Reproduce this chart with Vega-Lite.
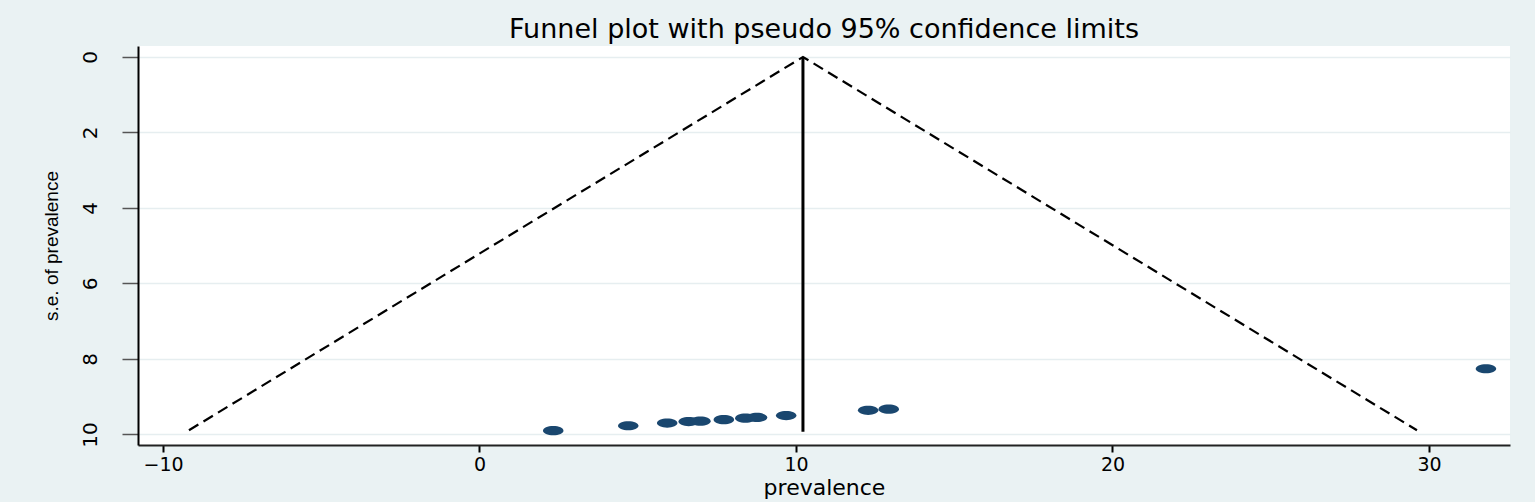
{
  "$schema": "https://vega.github.io/schema/vega-lite/v6.json",
  "width": 1372,
  "height": 399,
  "autosize": {"type": "none"},
  "padding": {"left": 138, "top": 46, "right": 25, "bottom": 57},
  "background": "#eaf2f3",
  "title": {
    "text": "Funnel plot with pseudo 95% confidence limits",
    "font": "DejaVu Sans",
    "fontSize": 27,
    "fontWeight": "normal",
    "color": "#000000",
    "baseline": "alphabetic",
    "offset": 7,
    "dy": 26,
    "anchor": "middle"
  },
  "config": {
    "view": {"stroke": null, "fill": "#ffffff"}
  },
  "datasets": {
    "studies": [
      {"prevalence": 2.33, "se": 9.90},
      {"prevalence": 4.70, "se": 9.77},
      {"prevalence": 5.93, "se": 9.70},
      {"prevalence": 6.61, "se": 9.66},
      {"prevalence": 6.98, "se": 9.65},
      {"prevalence": 7.72, "se": 9.61},
      {"prevalence": 8.40, "se": 9.57},
      {"prevalence": 8.77, "se": 9.55},
      {"prevalence": 9.69, "se": 9.50},
      {"prevalence": 12.28, "se": 9.36},
      {"prevalence": 12.93, "se": 9.33},
      {"prevalence": 31.80, "se": 8.26}
    ],
    "funnel": [
      {"prevalence": -9.18, "se": 9.89, "order": 1},
      {"prevalence": 10.22, "se": 0, "order": 2},
      {"prevalence": 29.62, "se": 9.89, "order": 3}
    ],
    "pooled": [
      {"prevalence": 10.22, "se_top": 0, "se_bottom": 9.93}
    ]
  },
  "layer": [
    {
      "data": {"name": "funnel"},
      "mark": {"type": "line", "color": "#000000", "strokeWidth": 2.2, "strokeDash": [11, 6], "clip": true},
      "encoding": {
        "x": {
          "field": "prevalence", "type": "quantitative",
          "scale": {"domain": [-10.79, 32.56], "nice": false, "zero": false},
          "axis": {
            "values": [-10, 0, 10, 20, 30],
            "grid": false,
            "title": "prevalence",
            "titleFont": "DejaVu Sans",
            "titleFontSize": 22,
            "titleFontWeight": "normal",
            "titleColor": "#000000",
            "titleBaseline": "middle",
            "titleY": 42,
            "labelFont": "DejaVu Sans",
            "labelFontSize": 19,
            "labelColor": "#000000",
            "labelPadding": 3,
            "labelBaseline": "top",
            "labelFlush": false,
            "tickColor": "#000000",
            "tickWidth": 2,
            "tickSize": 7,
            "domainColor": "#222222",
            "domainWidth": 2
          }
        },
        "y": {
          "field": "se", "type": "quantitative",
          "scale": {"domain": [-0.29, 10.28], "reverse": true, "nice": false, "zero": false},
          "axis": {
            "values": [0, 2, 4, 6, 8, 10],
            "grid": true,
            "gridColor": "#e6eef0",
            "gridWidth": 1.5,
            "title": "s.e. of prevalence",
            "titleFont": "Liberation Sans",
            "titleFontSize": 19,
            "titleFontWeight": "normal",
            "titleColor": "#000000",
            "titleAngle": 270,
            "titleBaseline": "middle",
            "titleAlign": "center",
            "titleX": -87,
            "titleY": 199.5,
            "labelFont": "DejaVu Sans",
            "labelFontSize": 20,
            "labelColor": "#000000",
            "labelAngle": 270,
            "labelAlign": "center",
            "labelBaseline": "bottom",
            "labelPadding": 22,
            "labelFlush": false,
            "tickColor": "#555555",
            "tickWidth": 1.5,
            "tickSize": 16,
            "domainColor": "#000000",
            "domainWidth": 2
          }
        },
        "order": {"field": "order", "type": "quantitative"}
      }
    },
    {
      "data": {"name": "pooled"},
      "mark": {"type": "rule", "color": "#000000", "strokeWidth": 3},
      "encoding": {
        "x": {"field": "prevalence", "type": "quantitative"},
        "y": {"field": "se_top", "type": "quantitative"},
        "y2": {"field": "se_bottom"}
      }
    },
    {
      "data": {"name": "studies"},
      "mark": {
        "type": "point",
        "filled": true,
        "opacity": 1,
        "color": "#1a476f",
        "size": 420,
        "shape": "M -1,0 A 1,0.45 0 1,1 1,0 A 1,0.45 0 1,1 -1,0 Z"
      },
      "encoding": {
        "x": {"field": "prevalence", "type": "quantitative"},
        "y": {"field": "se", "type": "quantitative"}
      }
    }
  ]
}
